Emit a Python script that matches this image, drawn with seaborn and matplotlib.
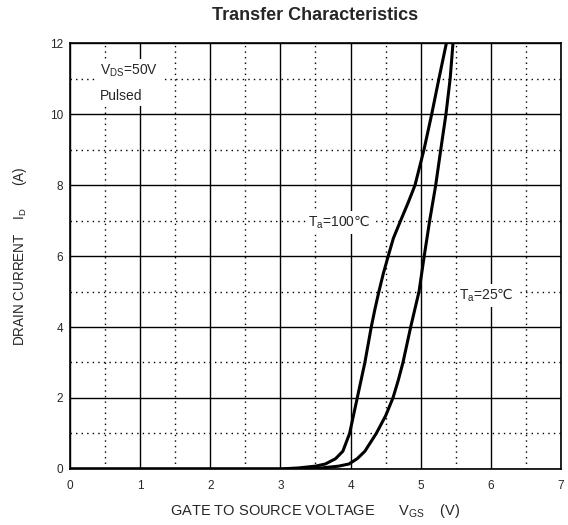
import numpy as np
import pandas as pd
import matplotlib
matplotlib.use("Agg")
import matplotlib.pyplot as plt
import seaborn as sns

# Curves (V_GS in V, I_D in A)
vgs_100 = [0.0, 3.0, 3.26, 3.5, 3.64, 3.786, 3.89, 3.986, 4.095, 4.204, 4.295, 4.347, 4.404, 4.466,
           4.537, 4.61, 4.714, 4.82, 4.87, 4.919, 5.047, 5.157, 5.26, 5.366]
id_100 = [0.0, 0.0, 0.03, 0.08, 0.14, 0.29, 0.5, 1.0, 2.0, 3.0, 4.0, 4.5, 5.0, 5.5,
          6.0, 6.5, 7.0, 7.5, 7.75, 8.0, 9.0, 10.0, 11.0, 12.0]

vgs_25 = [0.0, 3.3, 3.59, 3.83, 3.976, 4.095, 4.204, 4.366, 4.50, 4.604, 4.68, 4.747, 4.857, 4.976,
          5.05, 5.128, 5.214, 5.286, 5.36, 5.42, 5.46]
id_25 = [0.0, 0.0, 0.03, 0.08, 0.14, 0.29, 0.5, 1.0, 1.5, 2.0, 2.5, 3.0, 4.0, 5.0,
         6.0, 7.0, 8.0, 9.0, 10.0, 11.0, 12.0]

df = pd.concat([
    pd.DataFrame({"Vgs": vgs_100, "Id": id_100, "Ta": "100"}),
    pd.DataFrame({"Vgs": vgs_25, "Id": id_25, "Ta": "25"}),
], ignore_index=True)

sns.set_style("white")
plt.rcParams["font.family"] = ["Liberation Sans", "DejaVu Sans"]
plt.rcParams["mathtext.fontset"] = "custom"
plt.rcParams["mathtext.rm"] = "Liberation Sans"
plt.rcParams["mathtext.sf"] = "Noto Sans CJK SC"

fig = plt.figure(figsize=(5.68, 5.25), dpi=100)
ax = fig.add_axes([0.1232, 0.1067, 0.8645, 0.8113])

# grid: solid at majors, dotted at minors
ax.set_xlim(0, 7)
ax.set_ylim(0, 12)
ax.set_xticks(range(0, 8))
ax.set_yticks(range(0, 13, 2))
ax.set_xticks(np.arange(0.5, 7, 1.0), minor=True)
ax.set_yticks(np.arange(1, 12, 2), minor=True)
ax.grid(which="major", color="black", lw=1.0, ls="-")
ax.grid(which="minor", color="black", lw=1.0, ls=(0, (1, 3)))
ax.set_axisbelow(True)

sns.lineplot(data=df, x="Vgs", y="Id", units="Ta", estimator=None, sort=False,
             color="black", lw=2.2, ax=ax, legend=False, solid_joinstyle="round")

for s in ax.spines.values():
    s.set_color("black")
    s.set_linewidth(1.2)
ax.tick_params(which="both", direction="out", length=2, color="black", labelsize=8.5)
ax.tick_params(axis="x", pad=6)
ax.tick_params(axis="y", pad=3)

ax.set_xlabel(r"GATE TO SOURCE VOLTAGE      V$_{\mathregular{GS}}$    (V)", fontsize=10.5, labelpad=7)
ax.set_ylabel(r"DRAIN CURRENT    I$_{\mathregular{D}}$      (A)", fontsize=9.75, labelpad=15)
ax.set_title("Transfer Characteristics", fontsize=13, fontweight="bold", pad=16.5)

box = dict(facecolor="white", edgecolor="none", pad=2)
ax.text(0.43, 10.87, "V$_{\\mathregular{DS}}$=50V\nPulsed", fontsize=10, va="center", ha="left",
        linespacing=1.9, bbox=box)
ax.text(3.4, 6.95, r"T$_{\mathregular{a}}$=100$\mathsf{℃}$", fontsize=10, va="center", ha="left", bbox=box)
ax.text(5.55, 4.9, r"T$_{\mathregular{a}}$=25$\mathsf{℃}$", fontsize=10, va="center", ha="left", bbox=box)

fig.savefig("out.png", dpi=100)
